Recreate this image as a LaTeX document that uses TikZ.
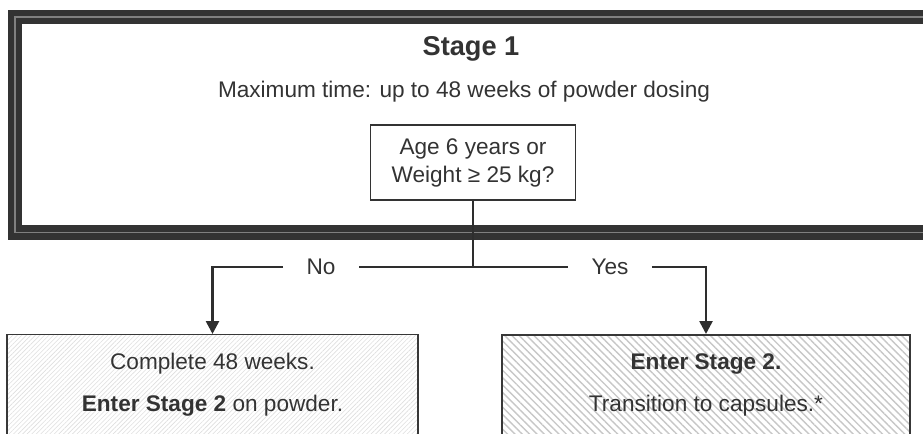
\documentclass[tikz,border=0pt]{standalone}
\usepackage{fontspec}
\setmainfont{Liberation Sans}
\usetikzlibrary{arrows.meta,positioning,patterns.meta}

\begin{document}
\begin{tikzpicture}[x=0.5pt, y=-0.5pt,
  stg/.style={draw=black!80, double=black!50, line width=3.2pt, double distance=0.8pt, minimum width=459.75pt, minimum height=107.75pt, inner sep=0pt},
  qbox/.style={draw=black!80, line width=0.8pt, fill=white, minimum width=102.5pt, minimum height=37.5pt, inner sep=0pt, align=center, font=\fontsize{11.3}{14}\selectfont, text=black!80},
  lbox/.style={draw=black!78, line width=0.8pt, minimum width=205.5pt, minimum height=70pt, pattern={Lines[angle=45, distance=1.6pt, line width=0.3pt]}, pattern color=black!13},
  rbox/.style={draw=black!78, line width=0.8pt, minimum width=204pt, minimum height=70pt, pattern={Lines[angle=-45, distance=2.6pt, line width=0.7pt]}, pattern color=black!22},
  txt/.style={font=\fontsize{11.3}{14}\selectfont, text=black!80, inner sep=0pt},
  lbl/.style={font=\fontsize{11.3}{14}\selectfont, text=black!80, inner xsep=11.5pt, inner ysep=0pt},
  conn/.style={draw=black!82, line width=1.3pt},
  arr/.style={conn, -{Triangle[length=6.5pt, width=6.5pt]}}]
\useasboundingbox (0,0) rectangle (923,434);
\clip (0,0) rectangle (923,434);

%% ── Stage 1 frame ───────────────────────────────────────
\node[stg] (stage) at (475,124.75) {};
\node[txt, font=\bfseries\fontsize{13.6}{16}\selectfont, anchor=base] (title) at (471,55) {Stage 1};
\node[txt, anchor=base] (maxtime) at (464,97) {Maximum time: up to 48 weeks of powder dosing};
\node[qbox] (q) at (473,162.5) {Age 6 years or\\Weight ≥ 25 kg?};

%% ── branches ────────────────────────────────────────────
\coordinate (split) at (473,267);
\node[lbl] (no) at (321,267) {No};
\node[lbl] (yes) at (610,267) {Yes};

\node[lbox, anchor=north] (left) at (212.5,334) {};
\node[rbox, anchor=north] (right) at (706,334) {};
\node[txt, anchor=base] (l1) at (212.5,369) {Complete 48 weeks.};
\node[txt, anchor=base] (l2) at (212.5,411) {\textbf{Enter Stage 2} on powder.};
\node[txt, anchor=base] (r1) at (706,369) {\textbf{Enter Stage 2.}};
\node[txt, anchor=base] (r2) at (706,411) {Transition to capsules.*};

\draw[conn] (q.south) -- (split);
\draw[conn] (split) -- (no.east);
\draw[conn] (split) -- (yes.west);
\draw[arr] (no.west) -| (left.north);
\draw[arr] (yes.east) -| (right.north);
\end{tikzpicture}
\end{document}
